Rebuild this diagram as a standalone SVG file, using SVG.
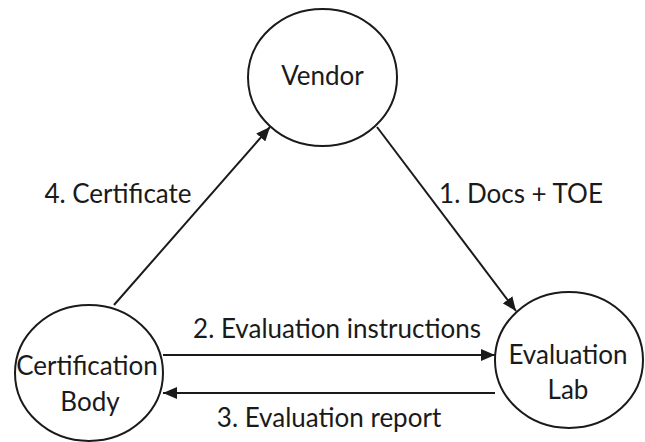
<svg xmlns="http://www.w3.org/2000/svg" width="645" height="442" viewBox="0 0 645 442">
  <style>
    .node { fill: #ffffff; stroke: #1a1a1a; stroke-width: 2; }
    .label { font-family: Lato, "Open Sans", sans-serif; font-size: 26px; fill: #1a1a1a; }
    .edge { stroke: #1a1a1a; stroke-width: 2; fill: none; marker-end: url(#arrow); }
  </style>
  <defs>
    <marker id="arrow" markerUnits="userSpaceOnUse" markerWidth="14" markerHeight="12" refX="14" refY="6" orient="auto">
      <path d="M0,0 L14,6 L0,12 Z" fill="#1a1a1a"/>
    </marker>
  </defs>
  <rect width="645" height="442" fill="#ffffff"/>

  <g id="connectors">
    <line class="edge" x1="377" y1="127" x2="516" y2="311"/>
    <line class="edge" x1="114" y1="305" x2="270" y2="127"/>
    <line class="edge" x1="163" y1="355" x2="495" y2="355"/>
    <line class="edge" x1="495" y1="393" x2="163" y2="393"/>
    <text class="label" x="521" y="203" text-anchor="middle">1. Docs + TOE</text>
    <text class="label" x="118" y="203" text-anchor="middle">4. Certificate</text>
    <text class="label" x="337" y="338" text-anchor="middle">2. Evaluation instructions</text>
    <text class="label" x="329" y="427" text-anchor="middle">3. Evaluation report</text>
  </g>

  <g id="vendor">
    <ellipse class="node" cx="322.5" cy="77.5" rx="74.5" ry="68.5"/>
    <text class="label" x="322.5" y="85" text-anchor="middle">Vendor</text>
  </g>

  <g id="certification-body">
    <ellipse class="node" cx="89" cy="373" rx="74" ry="68"/>
    <text class="label" x="87" y="375" text-anchor="middle">Certification</text>
    <text class="label" x="90" y="411" text-anchor="middle">Body</text>
  </g>

  <g id="evaluation-lab">
    <ellipse class="node" cx="569" cy="360" rx="74" ry="68"/>
    <text class="label" x="568" y="364" text-anchor="middle">Evaluation</text>
    <text class="label" x="568" y="399" text-anchor="middle">Lab</text>
  </g>
</svg>
